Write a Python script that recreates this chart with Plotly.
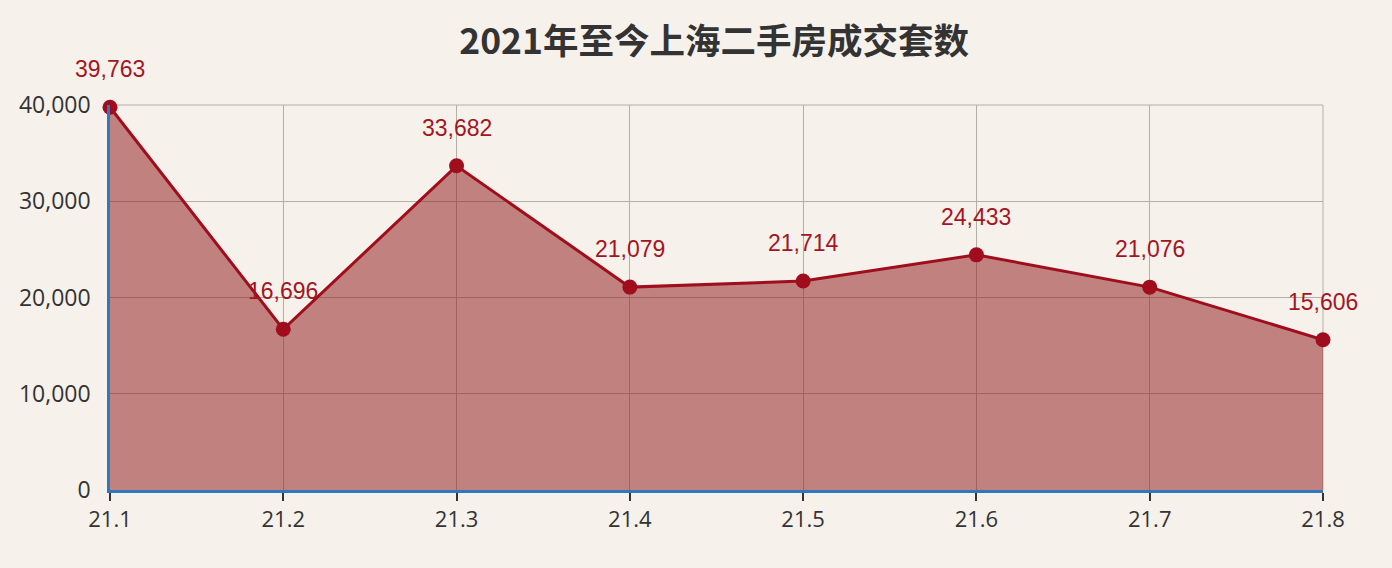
import plotly.graph_objects as go

# 2021年上海二手房月度成交套数
months = ["21.1", "21.2", "21.3", "21.4", "21.5", "21.6", "21.7", "21.8"]
deals = [39763, 16696, 33682, 21079, 21714, 24433, 21076, 15606]
y_ticks = [0, 10000, 20000, 30000, 40000]
y_tick_text = ["0", "10,000", "20,000", "30,000", "40,000"]

bg = "#f6f1eb"
line_red = "#a00d1c"
grid = "#b3b0ab"

fig = go.Figure()
fig.add_trace(go.Scatter(
    x=months, y=deals,
    mode="lines+markers",
    fill="tozeroy",
    fillcolor="rgba(140,20,20,0.5)",
    line=dict(color=line_red, width=3),
    marker=dict(color=line_red, size=15),
    cliponaxis=False,
    hoverinfo="x+y",
))

# value labels above each point (x given as category index)
for i, v in enumerate(deals):
    fig.add_annotation(
        x=i, y=v, text=f"{v:,}", showarrow=False,
        yshift=38, font=dict(family="Liberation Sans, Arial", size=23, color="#a3161f"),
    )

# top / right frame of the plot area (edge gridlines are not drawn by plotly)
fig.add_shape(type="line", xref="x domain", yref="y domain", x0=0, x1=1, y0=1, y1=1,
              line=dict(color=grid, width=1), layer="below")
fig.add_shape(type="line", xref="x domain", yref="y domain", x0=1, x1=1, y0=0, y1=1,
              line=dict(color=grid, width=1), layer="below")

fig.update_layout(
    width=1392, height=568,
    paper_bgcolor=bg, plot_bgcolor=bg,
    margin=dict(l=110, r=69, t=105, b=78),
    showlegend=False,
    title=dict(
        text="<b>2021年至今上海二手房成交套数</b>",
        x=0.513, xanchor="center", y=0.926, yanchor="middle",
        font=dict(family="Noto Sans CJK SC", size=35.5, color="#333333"),
    ),
)

fig.update_xaxes(
    type="category", range=[0, len(months) - 1],
    showgrid=True, gridcolor=grid, gridwidth=1,
    showline=True, linecolor="#2f78c0", linewidth=2.5,
    ticks="outside", ticklen=8, tickcolor="#333333", tickwidth=1.5,
    tickfont=dict(family="Open Sans", size=22, color="#333333"),
    zeroline=False,
)
fig.update_yaxes(
    range=[0, 40000], tickvals=y_ticks, ticktext=y_tick_text,
    showgrid=True, gridcolor=grid, gridwidth=1,
    showline=True, linecolor="#2f78c0", linewidth=2.5,
    ticks="", ticklabelstandoff=12,
    tickfont=dict(family="Open Sans", size=23, color="#333333"),
    zeroline=False,
)

fig.write_html("out.html", config={"displayModeBar": False},
               post_script="document.body.style.margin='0';")
